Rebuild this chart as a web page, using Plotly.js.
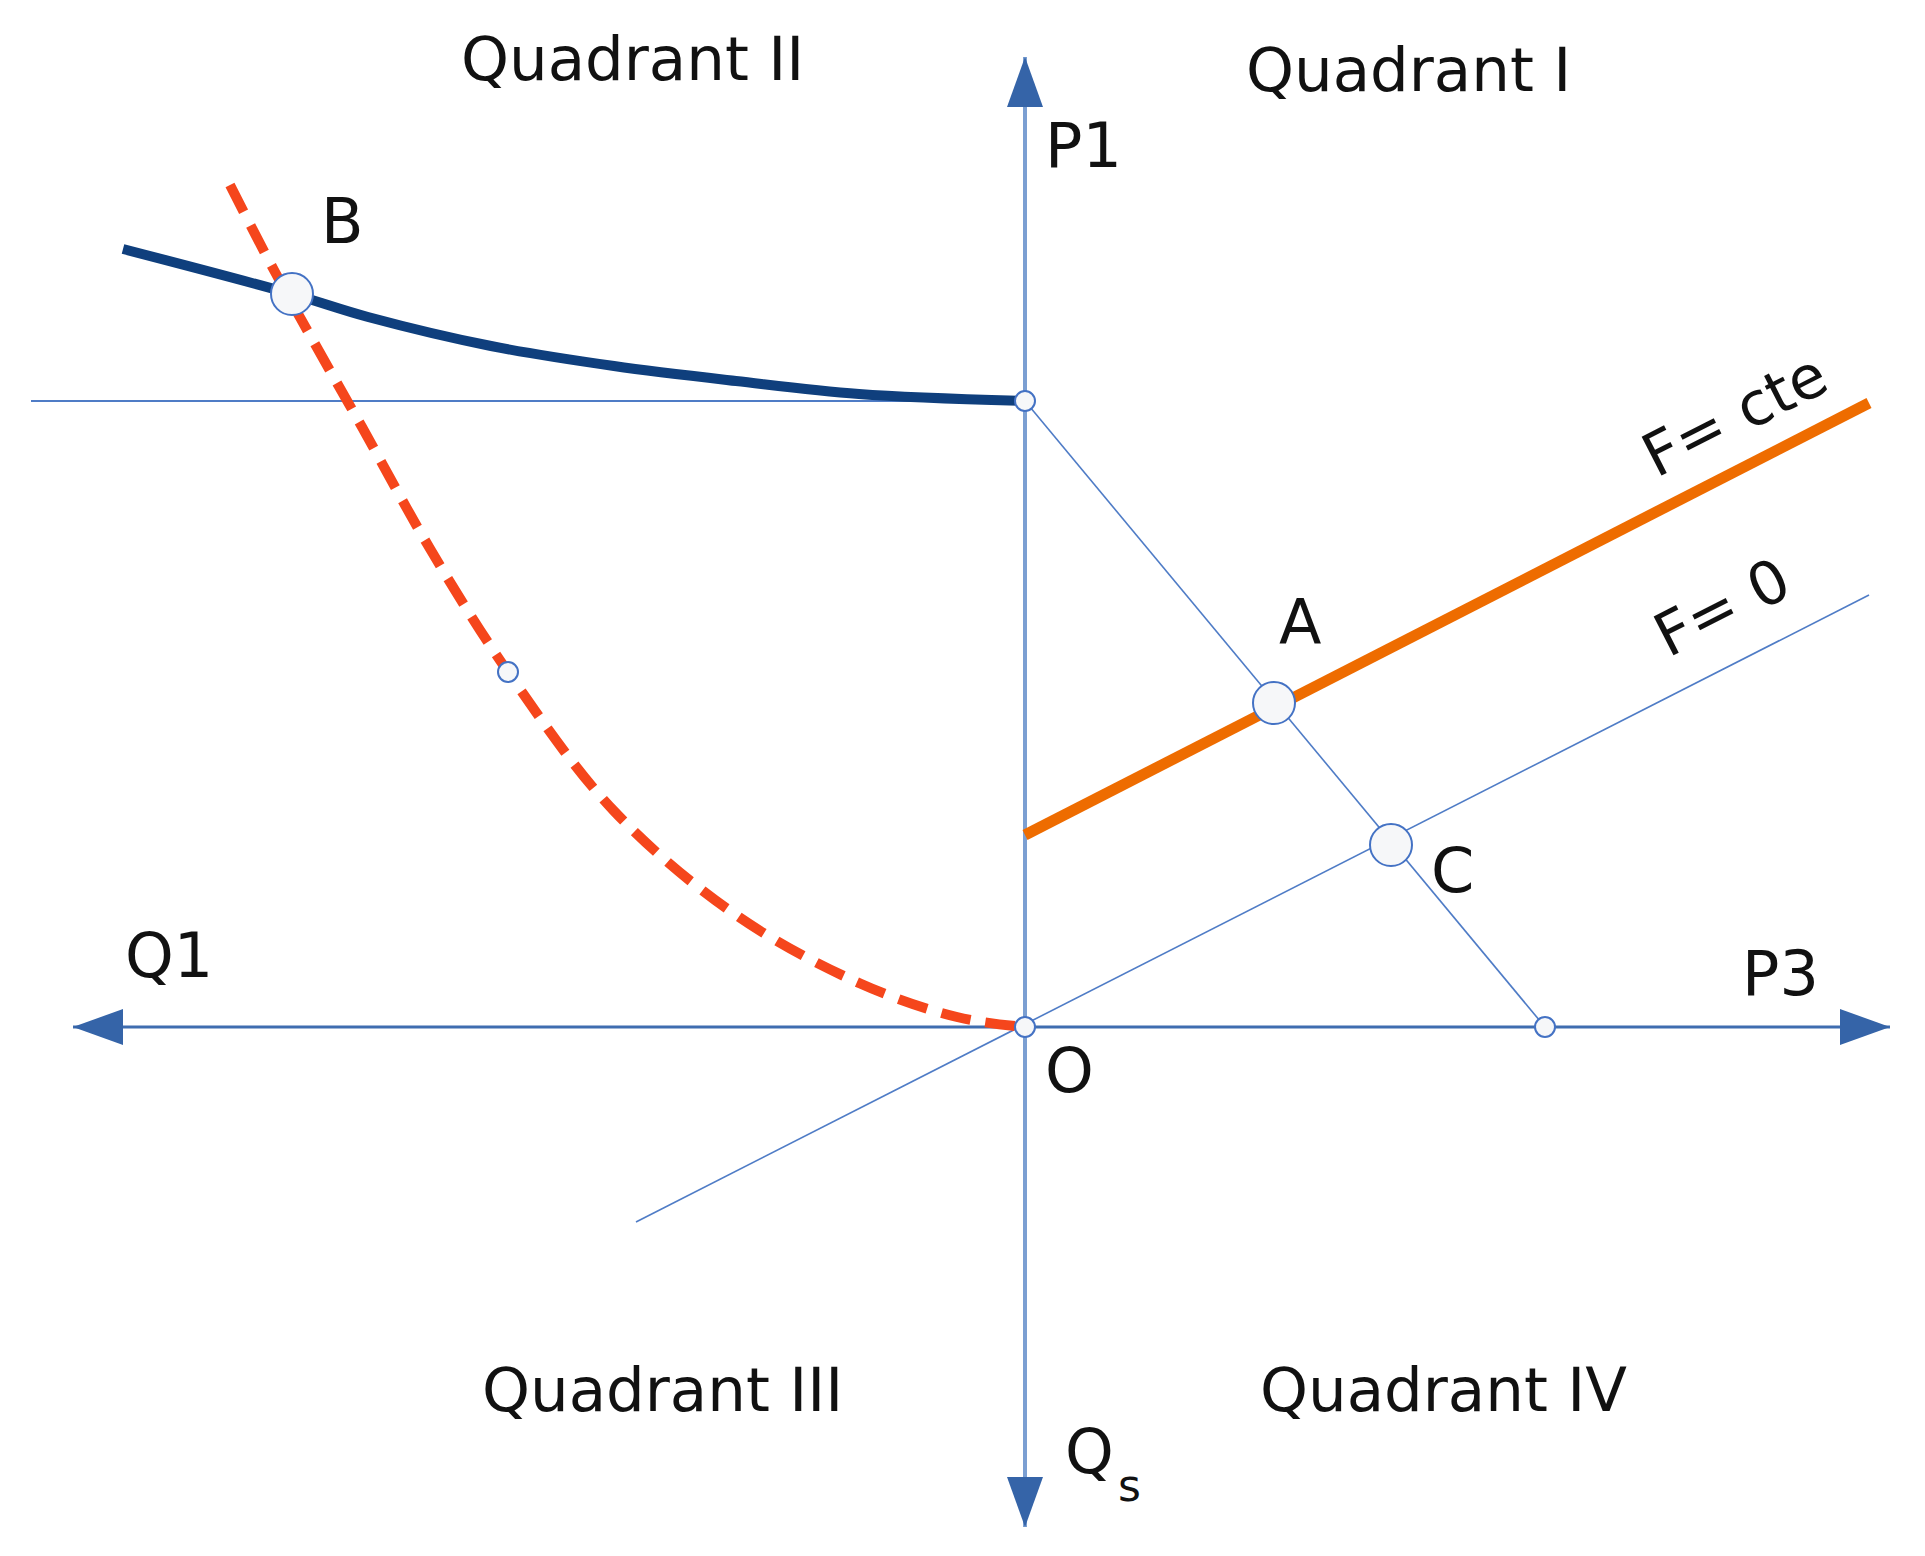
<!DOCTYPE html>
<html>
<head>
<meta charset="utf-8">
<script src="https://cdn.plot.ly/plotly-3.0.1.min.js"></script>
<style>html,body{margin:0;padding:0;background:#fff;}</style>
</head>
<body>
<div id="chart" style="width:1925px;height:1556px;"></div>
<script>
// ---- data (chart units, origin O) ----
const axisXEnds = [-9.52, 8.65];      // Q1 tip, P3 tip
const axisYEnds = [-5.00, 9.70];      // Qs tip, P1 tip
const p1Level = 6.26;                 // P1 on vertical axis
const p3Value = 5.20;                 // point on P3 axis
const p1LineX = [-9.94, 0];           // horizontal guide at P1 level

const supplyX = [-9.02, -7.33, -6.57, -5.34, -4.11, -2.89, -1.66, 0];
const supplyY = [7.78, 7.33, 7.10, 6.81, 6.61, 6.46, 6.33, 6.26];

const demandX = [-7.95, -7.50, -6.88, -6.63, -5.96, -5.17, -4.11, -2.89, -1.66, -0.68, 0];
const demandY = [8.42, 7.55, 6.44, 6.00, 4.80, 3.55, 2.16, 1.12, 0.44, 0.10, 0];

const fcteX = [0, 8.44];
const fcteY = [1.92, 6.24];
const f0X = [-3.89, 8.44];
const f0Y = [-1.95, 4.32];

const bigX = [-7.33, 2.49, 3.66];     // B, A, C
const bigY = [7.33, 3.24, 1.82];

const smallX = [0, 0, p3Value, -5.17];
const smallY = [p1Level, 0, 0, 3.55];

const quadLabels = ['Quadrant II', 'Quadrant I', 'Quadrant III', 'Quadrant IV'];
const quadX = [-3.93, 3.83, -3.63, 4.18];
const quadY = [9.69, 9.58, -3.62, -3.62];

const letterLabels = ['P1', 'B', 'A', 'C', 'Q1', 'P3', 'O', 'Q'];
const letterX = [0.58, -6.83, 2.75, 4.27, -8.56, 7.55, 0.44, 0.64];
const letterY = [8.82, 8.06, 4.05, 1.57, 0.72, 0.54, -0.43, -4.24];
const subLabel = 's';
const subX = 1.04, subY = -4.58;

const slopeLabels = ['F= cte', 'F= 0'];
const slopeX = [7.09, 6.97];
const slopeY = [6.12, 4.20];

// ---- styles ----
const AXIS_H = '#3f6db0', AXIS_V = '#7b9fd2', HEAD = '#3564a8';
const THIN = '#4f7cc6', ORANGE = '#ee6c00', NAVY = '#0f3f7d', RED = '#f5461c';
const FONT = 'DejaVu Sans';
const AH_LEN = 0.50, AH_HALF = 0.18;

function tri(tipX, tipY, dx, dy) {
  const bx = tipX - dx * AH_LEN, by = tipY - dy * AH_LEN;
  const px = -dy * AH_HALF, py = dx * AH_HALF;
  return {
    x: [tipX, bx + px, bx - px, tipX], y: [tipY, by + py, by - py, tipY],
    mode: 'lines', fill: 'toself', fillcolor: HEAD, line: {width: 0, color: HEAD},
    hoverinfo: 'skip'
  };
}

const traces = [
  {x: axisXEnds, y: [0, 0], mode: 'lines', line: {color: AXIS_H, width: 3}},
  {x: [0, 0], y: axisYEnds, mode: 'lines', line: {color: AXIS_V, width: 4}},
  tri(axisXEnds[0], 0, -1, 0),
  tri(axisXEnds[1], 0, 1, 0),
  tri(0, axisYEnds[0], 0, -1),
  tri(0, axisYEnds[1], 0, 1),
  {x: p1LineX, y: [p1Level, p1Level], mode: 'lines', line: {color: THIN, width: 2}},
  {x: [0, p3Value], y: [p1Level, 0], mode: 'lines', line: {color: THIN, width: 1.6}},
  {x: f0X, y: f0Y, mode: 'lines', line: {color: THIN, width: 1.6}},
  {x: fcteX, y: fcteY, mode: 'lines', line: {color: ORANGE, width: 11}},
  {x: demandX, y: demandY, mode: 'lines', line: {color: RED, width: 10, dash: '30px,15px', shape: 'spline', smoothing: 1}},
  {x: supplyX, y: supplyY, mode: 'lines', line: {color: NAVY, width: 10, shape: 'spline', smoothing: 1}},
  {x: smallX, y: smallY, mode: 'markers', marker: {size: 20, color: '#f6f7f9', line: {color: '#4472c4', width: 2}}},
  {x: bigX, y: bigY, mode: 'markers', marker: {size: 42, color: '#f6f7f9', line: {color: '#4472c4', width: 2}}}
];

const annotations = [];
quadLabels.forEach((t, i) => annotations.push({
  x: quadX[i], y: quadY[i], xref: 'x', yref: 'y', text: t, showarrow: false,
  xanchor: 'center', yanchor: 'middle', font: {family: FONT, size: 61, color: '#111'}
}));
letterLabels.forEach((t, i) => annotations.push({
  x: letterX[i], y: letterY[i], xref: 'x', yref: 'y', text: t, showarrow: false,
  xanchor: 'center', yanchor: 'middle', font: {family: FONT, size: 62, color: '#111'}
}));
annotations.push({
  x: subX, y: subY, xref: 'x', yref: 'y', text: subLabel, showarrow: false,
  xanchor: 'center', yanchor: 'middle', font: {family: FONT, size: 44, color: '#111'}
});
slopeLabels.forEach((t, i) => annotations.push({
  x: slopeX[i], y: slopeY[i], xref: 'x', yref: 'y', text: t, showarrow: false,
  xanchor: 'center', yanchor: 'middle', textangle: -27, font: {family: FONT, size: 60, color: '#111'}
}));

const layout = {
  width: 1925, height: 1556,
  margin: {l: 0, r: 0, t: 0, b: 0, pad: 0},
  paper_bgcolor: '#ffffff', plot_bgcolor: '#ffffff',
  showlegend: false,
  xaxis: {range: [-10.25, 9.00], visible: false, fixedrange: true},
  yaxis: {range: [-5.29, 10.27], visible: false, fixedrange: true},
  annotations: annotations
};

Plotly.newPlot('chart', traces, layout, {staticPlot: true, displayModeBar: false});
</script>
</body>
</html>
